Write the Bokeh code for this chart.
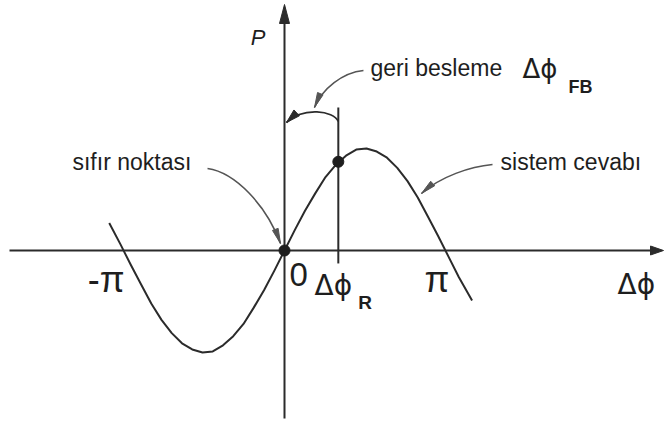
from bokeh.plotting import figure
from bokeh.models import Range1d, Label
from bokeh.embed import file_html
from bokeh.resources import INLINE

# System response P versus phase difference (rad), P normalised to its peak
phase = [-3.42, -3.2, -3.0, -2.8, -2.6, -2.4, -2.2, -2.0, -1.8, -1.6,
         -1.4, -1.2, -1.0, -0.8, -0.6, -0.4, -0.2, 0.0,
         0.2, 0.4, 0.6, 0.8, 1.0, 1.2, 1.4, 1.6, 1.8, 2.0,
         2.2, 2.4, 2.6, 2.8, 3.0, 3.2, 3.4, 3.66]
response = [0.27, 0.06, -0.14, -0.33, -0.52, -0.68, -0.81, -0.91, -0.97, -1.0,
            -0.99, -0.93, -0.84, -0.72, -0.56, -0.39, -0.20, 0.0,
            0.20, 0.39, 0.56, 0.72, 0.84, 0.93, 0.99, 1.0, 0.97, 0.91,
            0.81, 0.68, 0.52, 0.33, 0.14, -0.06, -0.26, -0.49]

# Operating point (reference phase) and the zero point
phi_r = 1.05
p_r = 0.87
zero_phase = 0.0
zero_p = 0.0

# Axis tick marks and their labels
tick_phase = [-3.14, 0.0, phi_r, 3.14]
tick_labels = ["-π", "0", "Δϕ", "π"]

# Screen scale of the drawing (pixels per radian / per unit of P)
W, H = 664, 426
SX, SY = 51.25, 102.0
OX, OY = 284, 250

INK = "#2b2b2b"
POINTER = "#555555"
SANS = "Liberation Sans"
GREEK = "DejaVu Sans"

p = figure(width=W, height=H,
           x_range=Range1d(-OX / SX, (W - OX) / SX),
           y_range=Range1d(-(H - OY) / SY, OY / SY),
           output_backend="svg", toolbar_location=None,
           x_axis_location=None, y_axis_location=None,
           min_border=0, outline_line_color=None,
           background_fill_color="white", border_fill_color="white")
p.grid.visible = False


def head(xt, yt, ux, uy, length, width, color):
    """Filled arrow head with its tip at (xt, yt); (ux, uy) is the screen direction."""
    n = (ux * ux + uy * uy) ** 0.5
    ux, uy = ux / n, uy / n
    qx, qy = -uy, ux
    bx, by = -ux * length, -uy * length
    xs = [xt, xt + (bx + qx * width / 2) / SX, xt + (bx - qx * width / 2) / SX]
    ys = [yt, yt + (by + qy * width / 2) / SY, yt + (by - qy * width / 2) / SY]
    p.patch(xs, ys, fill_color=color, line_color=color, line_width=1)


def pointer(x0, y0, cx0, cy0, cx1, cy1, x1, y1, color=POINTER, lw=1.6,
            length=15, width=6):
    p.bezier(x0=[x0], y0=[y0], x1=[x1], y1=[y1],
             cx0=[cx0], cy0=[cy0], cx1=[cx1], cy1=[cy1],
             line_color=color, line_width=lw)
    head(x1, y1, (x1 - cx1) * SX, (y1 - cy1) * SY, length, width, color)


# Axes with arrow heads
x_end = (W - 1 - OX) / SX
p.segment(x0=[(9 - OX) / SX], y0=[0], x1=[x_end - 8 / SX], y1=[0],
          line_color=INK, line_width=2)
head(x_end, 0, 1, 0, 13, 9, INK)
y_top = (OY - 4) / SY
p.segment(x0=[0], y0=[-(418 - OY) / SY], x1=[0], y1=[y_top - 12 / SY],
          line_color=INK, line_width=2)
head(0, y_top, 0, 1, 19, 10, INK)

# Response curve
p.line(phase, response, line_color=INK, line_width=2, line_join="round")

# Marker line at the operating phase
p.segment(x0=[phi_r], y0=[-0.127], x1=[phi_r], y1=[1.402],
          line_color=INK, line_width=2)

# Zero point and operating point
p.scatter([zero_phase, phi_r], [zero_p, p_r], size=11,
          fill_color="#1e1e1e", line_color="#1e1e1e")

# Feedback arc from the operating phase back to the P axis
pointer(phi_r, 1.265, 0.956, 1.373, 0.371, 1.412, 0.039, 1.255,
        color=INK, lw=1.8, length=14, width=8)

# Pointers from the captions
pointer(1.541, 1.765, 1.132, 1.745, 0.741, 1.588, 0.585, 1.402)
pointer(-1.502, 0.804, -0.956, 0.765, -0.351, 0.441, -0.078, 0.069)
pointer(4.059, 0.843, 3.629, 0.824, 3.044, 0.725, 2.673, 0.559)


def label(x, y, text, size, font=SANS, align="left", style="normal",
          x_offset=0, color="#1e1e1e"):
    # y is the intended baseline; lift by the renderer's baseline drop
    y = y + 0.3 * size / SY
    p.add_layout(Label(x=x, y=y, text=text, text_font=font,
                       text_font_size=f"{size}px", text_font_style=style,
                       text_align=align, text_baseline="alphabetic",
                       text_color=color, x_offset=x_offset))


# Captions
label(0, 2.02, "P", 22, style="italic", align="right", x_offset=-19)
label(1.678, 1.725, "geri besleme", 23)
label(4.644, 1.70, "Δϕ", 26, font=GREEK)
label(5.541, 1.549, "FB", 18, style="bold")
label(-4.137, 0.804, "sıfır noktası", 23)
label(4.215, 0.804, "sistem cevabı", 23)

# Tick labels along the phase axis
label(tick_phase[0], -0.392, tick_labels[0], 36, align="right", x_offset=1)
label(tick_phase[1], -0.33, tick_labels[1], 33, x_offset=5)
label(tick_phase[2], -0.422, tick_labels[2], 28, font=GREEK, align="center",
      x_offset=-5)
label(tick_phase[2], -0.569, "R", 19, style="bold", x_offset=20)
label(tick_phase[3], -0.392, tick_labels[3], 36, align="right", x_offset=4)

# Axis name
label(6.498, -0.412, "Δϕ", 28, font=GREEK)

open("out.html", "w").write(file_html(p, INLINE))
